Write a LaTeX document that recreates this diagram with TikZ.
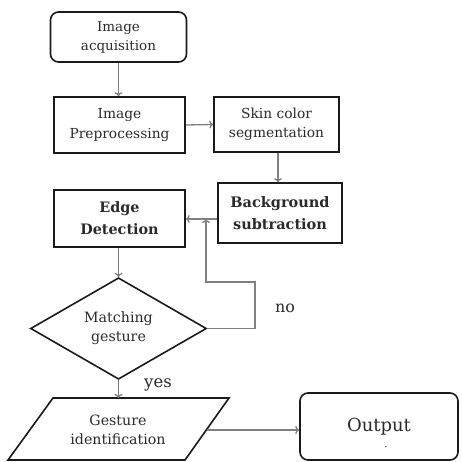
\documentclass[tikz,border=0pt]{standalone}
\usepackage{fontspec}
\setmainfont{DejaVu Serif}
\usetikzlibrary{shapes.geometric,arrows.meta}
\definecolor{linegray}{HTML}{808080}
\definecolor{boxline}{HTML}{1A1A1A}
\definecolor{txt}{HTML}{2A2A2A}
\tikzset{
  procbox/.style={draw=boxline, line width=1.6pt, rectangle, align=center, inner sep=0pt, text=txt},
  termbox/.style={procbox, rounded corners=8pt},
  decbox/.style={draw=boxline, line width=1.6pt, diamond, align=center, inner sep=0pt, text=txt},
  arr/.style={draw=linegray, line width=1.3pt, -{To[length=4pt,width=8pt]}},
  lbl/.style={inner sep=0pt, text=txt}
}
\begin{document}
\begin{tikzpicture}[x=1pt,y=-1pt]
  \useasboundingbox (0,0) rectangle (461,462);

  % flow steps
  \node[termbox, minimum width=136pt, minimum height=50pt, font=\fontsize{13.5}{19}\selectfont] (acq) at (118.5,37) {Image\\acquisition};
  \node[procbox, minimum width=131pt, minimum height=56pt, font=\fontsize{13.8}{20}\selectfont] (pre) at (119.5,125) {Image\\Preprocessing};
  \node[procbox, minimum width=125pt, minimum height=55pt, font=\fontsize{13.8}{19}\selectfont] (skin) at (276.5,124.5) {Skin color\\segmentation};
  \node[procbox, minimum width=124pt, minimum height=60pt, font=\fontsize{14.5}{21.5}\selectfont\bfseries] (bg) at (280,213) {Background\\subtraction};
  \node[procbox, minimum width=131pt, minimum height=57pt, font=\fontsize{14.4}{22}\selectfont\bfseries] (edge) at (119.5,218.5) {Edge\\Detection};
  \node[decbox, minimum width=176pt, minimum height=93pt, font=\fontsize{14.2}{19}\selectfont] (match) at (118.5,328.5) {Matching\\gesture};

  % input/output parallelogram for the identified gesture
  \draw[draw=boxline, line width=1.6pt] (53,398) -- (229,398) -- (185,460) -- (8,460) -- cycle;
  \node[lbl, align=center, font=\fontsize{14.2}{18.5}\selectfont] (gid) at (118,430) {Gesture\\identification};
  \coordinate (gidR) at (207,430);

  \node[termbox, minimum width=158pt, minimum height=67pt, font=\fontsize{18}{20}\selectfont] (out) at (379,426.5) {Output};
  \node[lbl, font=\fontsize{10}{12}\selectfont] (dot) at (386,447) {.};

  % connectors
  \draw[arr] (acq.south) -- (acq.south |- pre.north);
  \draw[arr] (pre.east) -- (skin.west);
  \draw[arr] (skin.south -| 278,0) -- (bg.north -| 278,0);
  \coordinate (j) at (206,219);
  \draw[arr] (bg.west |- j) -- (edge.east |- j);
  \draw[arr] (match.north |- edge.south) -- (match.north);
  \draw[arr] (match.east) -- (255,328.5) |- (206,282) -- (j);
  \draw[arr] (match.south) -- (match.south |- 0,398);
  \draw[arr] (gidR) -- (out.west |- gidR);

  % branch labels
  \node[lbl, font=\fontsize{16.5}{18}\selectfont] (yes) at (158,385) {yes};
  \node[lbl, font=\fontsize{16}{18}\selectfont] (no) at (285,308) {no};
\end{tikzpicture}
\end{document}
